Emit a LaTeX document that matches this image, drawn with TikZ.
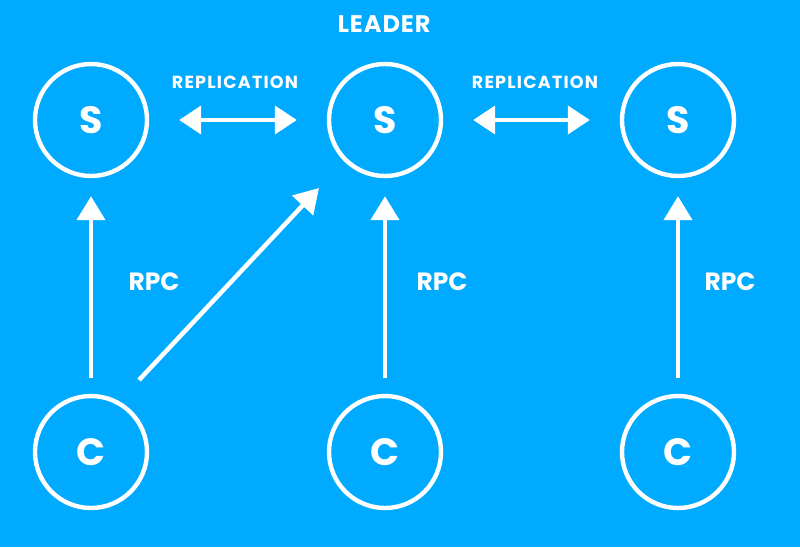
\documentclass[tikz,border=0pt]{standalone}
\usepackage{fontspec}
\setmainfont{Poppins}
\usetikzlibrary{arrows.meta,calc}
\definecolor{bg}{RGB}{0,170,255}
\tikzset{
  srv/.style={circle,draw=white,line width=4.4pt,minimum size=112pt,inner sep=0pt,
    text=white,font=\fontsize{38}{38}\selectfont\bfseries},
  lbl/.style={text=white,inner sep=0pt},
  rpcarrow/.style={draw=white,line width=4.5pt,-{Triangle[width=28pt,length=24pt]}},
  reparrow/.style={draw=white,line width=4.5pt,{Triangle[width=28pt,length=22pt]}-{Triangle[width=28pt,length=22pt]}}
}
\begin{document}
\begin{tikzpicture}[x=1pt,y=-1pt]
\fill[bg] (0,0) rectangle (800,547);
\useasboundingbox (0,0) rectangle (800,547);
\node[srv] (S1) at (91,120) {S};
\node[srv] (S2) at (385,120) {S};
\node[srv] (S3) at (678,120) {S};
\node[srv] (C1) at (91,452) {C};
\node[srv] (C2) at (385,452) {C};
\node[srv] (C3) at (678,452) {C};
\node[lbl,font=\fontsize{24}{24}\selectfont\bfseries\addfontfeatures{LetterSpace=4}] (leader) at (384,24) {LEADER};
\node[lbl,font=\fontsize{17.5}{18}\selectfont\bfseries\addfontfeatures{LetterSpace=7}] (rep1) at (235,82) {REPLICATION};
\node[lbl,font=\fontsize{17.5}{18}\selectfont\bfseries\addfontfeatures{LetterSpace=7}] (rep2) at (535,82) {REPLICATION};
\node[lbl,font=\fontsize{25}{25}\selectfont\bfseries] (rpc1) at (154,282) {RPC};
\node[lbl,font=\fontsize{25}{25}\selectfont\bfseries] (rpc2) at (442,282) {RPC};
\node[lbl,font=\fontsize{25}{25}\selectfont\bfseries] (rpc3) at (730,282) {RPC};
\draw[reparrow,shorten <=30pt,shorten >=30pt] (S1) -- (S2);
\draw[reparrow,shorten <=30pt,shorten >=30pt] (S2) -- (S3);
\draw[rpcarrow,shorten <=16pt,shorten >=18pt] (C1) -- (S1);
\draw[rpcarrow,shorten <=16pt,shorten >=18pt] (C2) -- (S2);
\draw[rpcarrow,shorten <=16pt,shorten >=18pt] (C3) -- (S3);
\draw[rpcarrow] ($(C1)+(48,-72)$) -- ($(S2)+(-66,68)$);
\end{tikzpicture}
\end{document}
